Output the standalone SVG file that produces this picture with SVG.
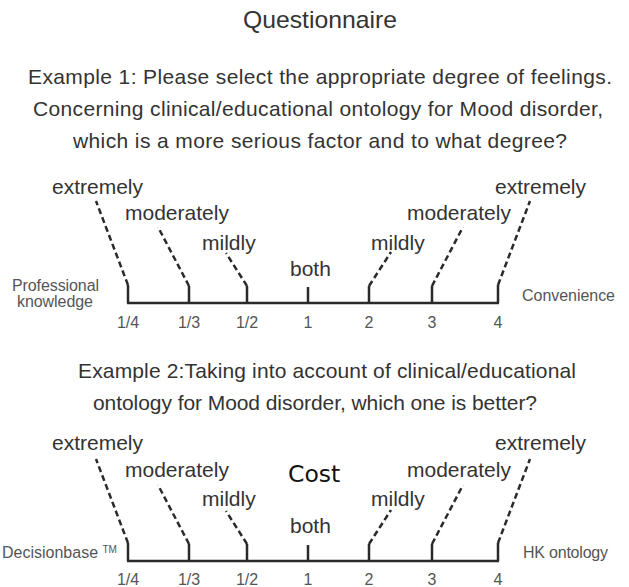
<svg xmlns="http://www.w3.org/2000/svg" width="629" height="587" viewBox="0 0 629 587">
  <style>
    text { font-family: "Liberation Sans", Arial, sans-serif; fill: #333333; }
    .title { font-size: 24px; }
    .q { font-size: 21px; }
    .deg { font-size: 21px; }
    .side { font-size: 16px; fill: #555555; }
    .num { font-size: 16px; fill: #555555; text-anchor: middle; }
    .cost { font-family: "DejaVu Sans", sans-serif; font-size: 23.5px; fill: #111111; }
    .axis { stroke: #2a2a2a; stroke-width: 2.5; fill: none; }
    .tick { stroke: #2a2a2a; stroke-width: 2.5; fill: none; }
    .dash { stroke: #2a2a2a; stroke-width: 2.5; fill: none; stroke-dasharray: 6 3.5; }
  </style>
  <rect width="629" height="587" fill="#ffffff"/>

  <text class="title" x="243" y="28" textLength="154" lengthAdjust="spacingAndGlyphs">Questionnaire</text>

  <g id="example1-question">
    <text class="q" x="28" y="84" textLength="584" lengthAdjust="spacing">Example 1: Please select the appropriate degree of feelings.</text>
    <text class="q" x="33" y="116" textLength="570" lengthAdjust="spacing">Concerning clinical/educational ontology for Mood disorder,</text>
    <text class="q" x="73" y="148" textLength="494" lengthAdjust="spacing">which is a more serious factor and to what degree?</text>
  </g>

  <!-- Scale 1 -->
  <g id="scale1">
    <g id="scale1-labels">
      <text class="deg" x="52" y="194">extremely</text>
      <text class="deg" x="125" y="220">moderately</text>
      <text class="deg" x="202" y="250">mildly</text>
      <text class="deg" x="290" y="276">both</text>
      <text class="deg" x="371" y="250">mildly</text>
      <text class="deg" x="407" y="220">moderately</text>
      <text class="deg" x="495" y="194">extremely</text>
      <text class="side" x="12" y="291" textLength="87">Professional</text>
      <text class="side" x="17" y="307" textLength="76">knowledge</text>
      <text class="side" x="522" y="301" textLength="93">Convenience</text>
      <text class="num" x="128" y="328">1/4</text>
      <text class="num" x="189" y="328">1/3</text>
      <text class="num" x="247" y="328">1/2</text>
      <text class="num" x="308" y="328">1</text>
      <text class="num" x="369" y="328">2</text>
      <text class="num" x="432" y="328">3</text>
      <text class="num" x="498" y="328">4</text>
    </g>
    <g id="scale1-lines">
      <line class="axis" x1="127" y1="303" x2="499" y2="303"/>
      <path class="tick" d="M128 303V285M189 303V286M247 303V286M308 303V287M369 303V286M432 303V286M498 303V285"/>
      <path class="dash" d="M128 285L96 201M189 286L158 227M247 286L226 253M369 286L391 252M432 286L463 227M498 285L530 201"/>
    </g>
  </g>

  <g id="example2-question">
    <text class="q" x="78" y="378" textLength="498" lengthAdjust="spacing">Example 2:Taking into account of clinical/educational</text>
    <text class="q" x="93" y="410" textLength="444" lengthAdjust="spacing">ontology for Mood disorder, which one is better?</text>
  </g>

  <!-- Scale 2 -->
  <g id="scale2">
    <g id="scale2-labels">
      <text class="deg" x="52" y="450">extremely</text>
      <text class="deg" x="125" y="477">moderately</text>
      <text class="cost" x="288" y="482">Cost</text>
      <text class="deg" x="202" y="506">mildly</text>
      <text class="deg" x="290" y="533">both</text>
      <text class="deg" x="371" y="506">mildly</text>
      <text class="deg" x="407" y="477">moderately</text>
      <text class="deg" x="495" y="450">extremely</text>
      <text class="side" x="2" y="558">Decisionbase <tspan font-size="10" dy="-5">TM</tspan></text>
      <text class="side" x="523" y="558" textLength="85">HK ontology</text>
      <text class="num" x="128" y="585">1/4</text>
      <text class="num" x="189" y="585">1/3</text>
      <text class="num" x="247" y="585">1/2</text>
      <text class="num" x="308" y="585">1</text>
      <text class="num" x="369" y="585">2</text>
      <text class="num" x="432" y="585">3</text>
      <text class="num" x="498" y="585">4</text>
    </g>
    <g id="scale2-lines">
      <line class="axis" x1="127" y1="561" x2="499" y2="561"/>
      <path class="tick" d="M128 561V543M189 561V544M247 561V544M308 561V545M369 561V544M432 561V544M498 561V543"/>
      <path class="dash" d="M128 543L96 459M189 544L158 485M247 544L226 511M369 544L391 510M432 544L463 485M498 543L530 459"/>
    </g>
  </g>
</svg>
